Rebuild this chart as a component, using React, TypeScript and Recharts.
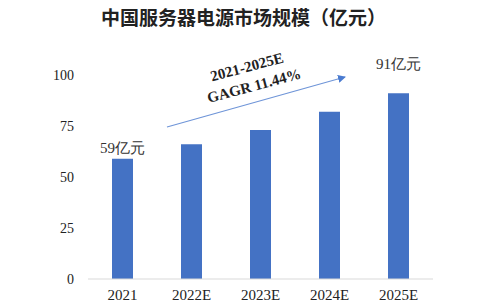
import { Bar, BarChart, LabelList, XAxis, YAxis } from 'recharts';

const years = ['2021', '2022E', '2023E', '2024E', '2025E'];
const marketSize = [59, 66, 73, 82, 91];
const valueLabels = ['59亿元', '', '', '', '91亿元'];
const yTicks = [0, 25, 50, 75, 100];

const chartData = years.map((year, i) => ({ year, size: marketSize[i], label: valueLabels[i] }));

const serif = '"Liberation Serif", "Times New Roman", serif';

const ValueLabel = (props: any) => {
  const { x, y, width, value, index } = props;
  if (!value) return null;
  const lift = index === 0 ? 6 : 24;
  return (
    <text x={x + width / 2} y={y - lift} textAnchor="middle" fill="#333" fontSize={15} fontFamily={serif}>
      {value}
    </text>
  );
};

export default function App() {
  return (
    <div style={{ position: 'absolute', left: 0, top: 0, width: 483, height: 302, background: '#fff', overflow: 'hidden' }}>
      <div
        style={{
          position: 'absolute', left: 2, top: 3, width: 483, textAlign: 'center',
          fontFamily: '"Noto Sans CJK SC", sans-serif', fontWeight: 700, fontSize: 19, color: '#222',
        }}
      >
        中国服务器电源市场规模（亿元）
      </div>
      <BarChart width={483} height={302} data={chartData} margin={{ top: 75, right: 50, bottom: 0, left: 0 }}>
        <XAxis
          dataKey="year"
          height={23}
          tickLine={false}
          axisLine={{ stroke: '#d9d9d9' }}
          tickMargin={4}
          tick={{ fill: '#222', fontSize: 15, fontFamily: serif }}
        />
        <YAxis
          width={88}
          domain={[0, 100]}
          ticks={yTicks}
          axisLine={false}
          tickLine={false}
          tickMargin={8}
          tick={{ fill: '#222', fontSize: 14, fontFamily: serif }}
        />
        <Bar dataKey="size" fill="#4472c4" barSize={21} isAnimationActive={false}>
          <LabelList dataKey="label" content={<ValueLabel />} />
        </Bar>
      </BarChart>
      <svg width={483} height={302} style={{ position: 'absolute', left: 0, top: 0, pointerEvents: 'none' }}>
        <defs>
          <marker id="arrowHead" markerWidth="8" markerHeight="8" refX="7" refY="4" orient="auto" markerUnits="userSpaceOnUse">
            <path d="M0,0 L8,4 L0,8 Z" fill="#4a7bd0" />
          </marker>
        </defs>
        <line x1={167} y1={127} x2={345} y2={77} stroke="#6f95d8" strokeWidth={1.2} markerEnd="url(#arrowHead)" />
        <g transform="rotate(-15 252 78)" fontFamily={serif} fontWeight={700} fontSize={15} fill="#222" textAnchor="middle">
          <text x={250} y={71}>2021-2025E</text>
          <text x={252} y={91}>GAGR 11.44%</text>
        </g>
      </svg>
    </div>
  );
}
